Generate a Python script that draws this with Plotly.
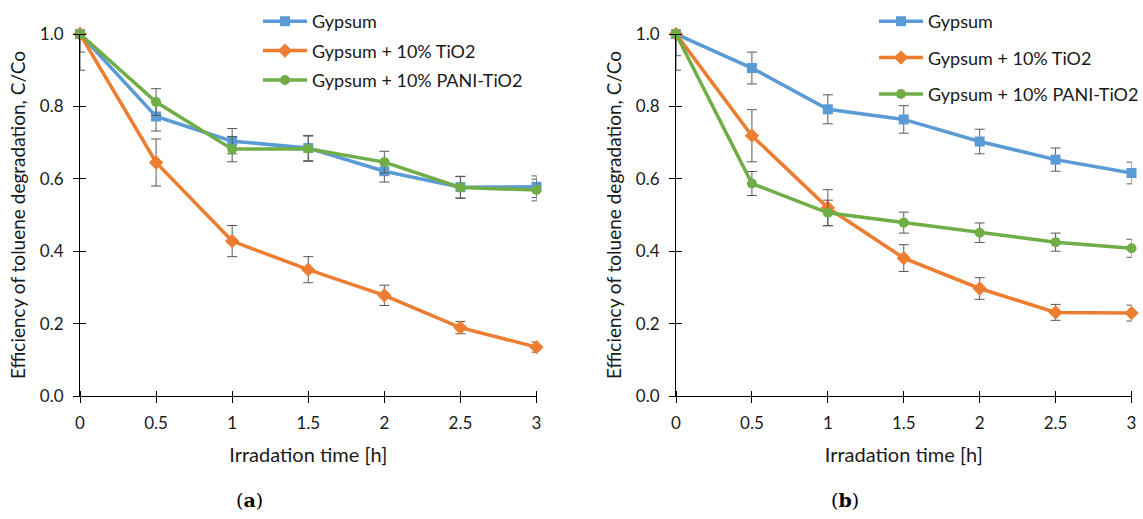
import plotly.graph_objects as go

times = [0, 0.5, 1, 1.5, 2, 2.5, 3]
tick_labels = ["0", "0.5", "1", "1.5", "2", "2.5", "3"]
y_ticks = [0, 0.2, 0.4, 0.6, 0.8, 1.0]
names = ["Gypsum", "Gypsum + 10% TiO2", "Gypsum + 10% PANI-TiO2"]

# panel (a)
a_gypsum = [1.0, 0.772, 0.704, 0.685, 0.621, 0.577, 0.578]
a_tio2 = [1.0, 0.645, 0.428, 0.349, 0.278, 0.189, 0.135]
a_pani = [1.0, 0.812, 0.682, 0.683, 0.646, 0.576, 0.569]
a_gypsum_err_minus = [0.05, 0.04, 0.035, 0.035, 0.03, 0.03, 0.03]
a_tio2_err_minus = [0.0, 0.065, 0.043, 0.036, 0.028, 0.017, 0.014]
a_pani_err_minus = [0.10, 0.037, 0.035, 0.035, 0.03, 0.03, 0.03]
a_gypsum_err_plus = [0.0, 0.04, 0.035, 0.035, 0.03, 0.03, 0.03]
a_tio2_err_plus = [0.0, 0.065, 0.043, 0.036, 0.028, 0.017, 0.014]
a_pani_err_plus = [0.0, 0.037, 0.035, 0.035, 0.03, 0.03, 0.03]

# panel (b)
b_gypsum = [1.0, 0.906, 0.792, 0.764, 0.703, 0.653, 0.616]
b_tio2 = [1.0, 0.719, 0.520, 0.381, 0.297, 0.231, 0.229]
b_pani = [1.0, 0.587, 0.506, 0.479, 0.451, 0.425, 0.408]
b_gypsum_err_minus = [0.06, 0.044, 0.04, 0.038, 0.034, 0.032, 0.03]
b_tio2_err_minus = [0.0, 0.072, 0.05, 0.037, 0.03, 0.022, 0.022]
b_pani_err_minus = [0.10, 0.033, 0.035, 0.029, 0.027, 0.025, 0.025]
b_gypsum_err_plus = [0.0, 0.044, 0.04, 0.038, 0.034, 0.032, 0.03]
b_tio2_err_plus = [0.0, 0.072, 0.05, 0.037, 0.03, 0.022, 0.022]
b_pani_err_plus = [0.0, 0.033, 0.035, 0.029, 0.027, 0.025, 0.025]

colors = ["#5B9BD5", "#ED7D31", "#70AD47"]
symbols = ["square", "diamond", "circle"]
FONT = "Lato"
TXT = "#1a1a1a"
W, H = 1143, 519

fig = go.Figure()

panels = [
    ("x", "y", "legend", [a_gypsum, a_tio2, a_pani],
     [a_gypsum_err_plus, a_tio2_err_plus, a_pani_err_plus],
     [a_gypsum_err_minus, a_tio2_err_minus, a_pani_err_minus]),
    ("x2", "y2", "legend2", [b_gypsum, b_tio2, b_pani],
     [b_gypsum_err_plus, b_tio2_err_plus, b_pani_err_plus],
     [b_gypsum_err_minus, b_tio2_err_minus, b_pani_err_minus]),
]

for xa, ya, leg, series, eplus, eminus in panels:
    for i in range(3):
        fig.add_trace(go.Scatter(
            x=times, y=series[i], name=names[i], xaxis=xa, yaxis=ya,
            legend=leg, legendgroup=leg + str(i),
            mode="lines+markers", cliponaxis=False,
            line=dict(color=colors[i], width=3.5),
            marker=dict(symbol=symbols[i], size=10 if i != 1 else 11, color=colors[i]),
            error_y=dict(type="data", symmetric=False, array=eplus[i], arrayminus=eminus[i],
                         color="#595959", thickness=1, width=5),
        ))

axis_common = dict(range=[0, 3], showgrid=False, zeroline=False, showline=True,
                   linecolor="#000000", linewidth=1, ticks="outside", ticklen=6,
                   tickcolor="#000000", tickvals=times, ticktext=tick_labels,
                   ticklabelstandoff=6,
                   minor=dict(tickvals=times, ticks="inside", ticklen=5, tickcolor="#000000",
                              showgrid=False),
                   tickfont=dict(family=FONT, size=17, color=TXT),
                   title=dict(text="Irradation time [h]", font=dict(family=FONT, size=20, color=TXT),
                              standoff=15))
yaxis_common = dict(range=[0, 1.0], showgrid=False, zeroline=False, showline=True,
                    linecolor="#000000", linewidth=1, ticks="outside", ticklen=6,
                    tickcolor="#000000", tickvals=y_ticks,
                    tickformat=".1f", ticklabelstandoff=6,
                    minor=dict(tickvals=y_ticks, ticks="inside", ticklen=6, tickcolor="#000000",
                               showgrid=False),
                    tickfont=dict(family=FONT, size=17, color=TXT),
                    title=dict(text="Efficiency of toluene degradation, C/Co",
                               font=dict(family=FONT, size=19, color=TXT), standoff=9))

fig.update_layout(
    width=W, height=H, margin=dict(l=0, r=0, t=0, b=0, autoexpand=False),
    paper_bgcolor="white", plot_bgcolor="white",
    xaxis=dict(domain=[80 / W, 536.5 / W], anchor="y", **axis_common),
    yaxis=dict(domain=[1 - 396 / H, 1 - 34 / H], anchor="x", **yaxis_common),
    xaxis2=dict(domain=[676 / W, 1131.5 / W], anchor="y2", **axis_common),
    yaxis2=dict(domain=[1 - 396 / H, 1 - 34 / H], anchor="x2", **yaxis_common),
    legend=dict(x=258 / W, y=1 - 3 / H, xanchor="left", yanchor="top",
                font=dict(family=FONT, size=18, color=TXT), tracegroupgap=3,
                itemwidth=44, bgcolor="rgba(0,0,0,0)"),
    legend2=dict(x=874 / W, y=1 - 3 / H, xanchor="left", yanchor="top",
                 font=dict(family=FONT, size=18, color=TXT), tracegroupgap=10,
                 itemwidth=44, bgcolor="rgba(0,0,0,0)"),
    annotations=[
        dict(text="(<b>a</b>)", x=249 / W, y=1 - 500 / H, xref="paper", yref="paper",
             xanchor="center", yanchor="middle",
             showarrow=False, font=dict(family="DejaVu Serif", size=19, color="#000")),
        dict(text="(<b>b</b>)", x=845 / W, y=1 - 500 / H, xref="paper", yref="paper",
             xanchor="center", yanchor="middle",
             showarrow=False, font=dict(family="DejaVu Serif", size=19, color="#000")),
    ],
)

fig.write_html("out.html")
